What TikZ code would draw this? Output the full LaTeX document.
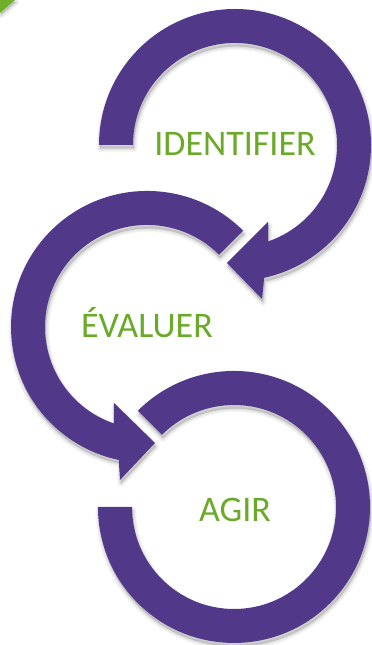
\documentclass[tikz,border=0pt]{standalone}
\usepackage{fontspec}
\setmainfont{Carlito}
\definecolor{ringpurple}{RGB}{82,56,136}
\definecolor{textgreen}{RGB}{106,170,40}
\definecolor{cornergreen}{RGB}{112,176,40}
\begin{document}
\begin{tikzpicture}[x=1pt,y=1pt,
  ringfill/.style={fill=ringpurple},
  ringtext/.style={text=textgreen, font=\fontsize{36}{40}\selectfont, inner sep=0pt, anchor=base},
  shadowlayer/.style={draw=black, fill=black, opacity=0.035, line join=round}]
\useasboundingbox (0,0) rectangle (372,645);
\fill[white] (0,0) rectangle (372,645);
\def\ringA{(99,500) arc[start angle=180,end angle=-77.6,radius=136] -- (262,346) -- (227,382) -- (268,423) -- (268.2,403.6) arc[start angle=-71,end angle=180,radius=102] -- cycle}
\def\ringB{(243.2,414.2) arc[start angle=45,end angle=258,radius=136] -- (120,165) -- (155,202) -- (114,242) -- (113.8,221.6) arc[start angle=251,end angle=45,radius=102] -- cycle}
\def\ringC{(137.8,234.2) arc[start angle=135,end angle=-180,radius=136] -- (132,138) arc[start angle=180,end angle=495,radius=102] -- cycle}
\def\corner{(0,645) -- (15,645) -- (0,632) -- cycle}
% soft shadows
\foreach \w in {1,3,5,7}{
  \path[shadowlayer, line width=\w pt, shift={(1,-3.5)}] \ringA;
  \path[shadowlayer, line width=\w pt, shift={(1,-3.5)}] \ringB;
  \path[shadowlayer, line width=\w pt, shift={(1,-3.5)}] \ringC;
  \path[shadowlayer, line width=\w pt, shift={(1,-2)}] \corner;
}
% shapes
\fill[cornergreen] \corner;
\fill[ringfill] \ringA;
\fill[ringfill] \ringB;
\fill[ringfill] \ringC;
% texts
\node[ringtext] (identifier) at (235,489) {IDENTIFIER};
\node[ringtext] (evaluer) at (147,307) {ÉVALUER};
\node[ringtext] (agir) at (235,123) {AGIR};
\end{tikzpicture}
\end{document}
